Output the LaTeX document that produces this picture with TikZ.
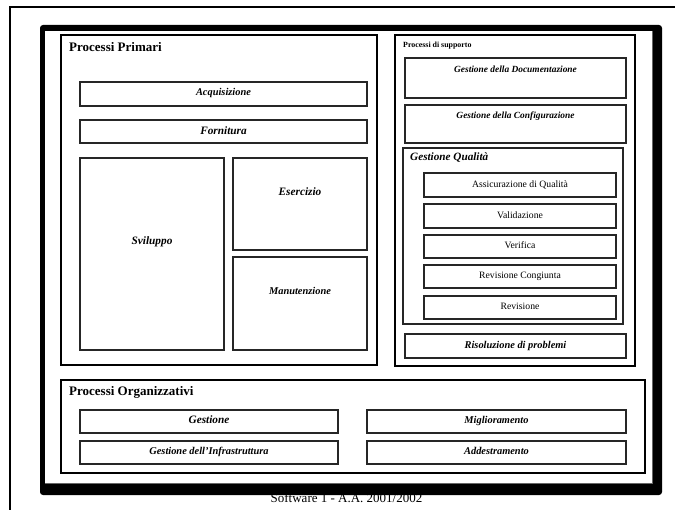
\documentclass[tikz,border=0pt]{standalone}
\usepackage{fontspec}
\setmainfont{Liberation Serif}
\begin{document}
\begin{tikzpicture}[x=1pt,y=-1pt,
  grp/.style={draw=black,line width=1.8pt},
  box/.style={draw=black!85,line width=1.4pt},
  title/.style={anchor=mid west,inner sep=0pt,font=\bfseries\fontsize{13}{15}\selectfont},
  lbl/.style={anchor=mid,inner sep=0pt,font=\bfseries\itshape\fontsize{10.4}{12}\selectfont},
  lblbig/.style={lbl,font=\bfseries\itshape\fontsize{11.3}{13}\selectfont},
  lblsmall/.style={lbl,font=\bfseries\itshape\fontsize{9.4}{11}\selectfont},
  plain/.style={anchor=mid,inner sep=0pt,font=\fontsize{9.7}{11}\selectfont}]
\useasboundingbox (0,0) rectangle (675,510);
% outer page frame
\draw[line width=2pt] (10,510) -- (10,7) -- (675,7);
% footer (partly hidden under the shadow)
\node[anchor=base,inner sep=0pt,font=\fontsize{13}{15}\selectfont] (footer) at (346.5,502) {Software 1 - A.A. 2001/2002};
% main frame with shadow
\fill[black,rounded corners=3pt] (40,25) rectangle (662,495);
\fill[white] (45,31) rectangle (652,483);
\draw[black!60,line width=0.6pt] (652,31) -- (652,483) -- (45,483);

% Processi Primari
\draw[grp] (61,35) rectangle (377,365);
\node[title] (pp) at (69,49) {Processi Primari};
\draw[box] (80,82) rectangle (367,106);
\node[lbl] (acq) at (223.5,93.5) {Acquisizione};
\draw[box] (80,120) rectangle (367,143);
\node[lblbig] (forn) at (223.5,132) {Fornitura};
\draw[box] (80,158) rectangle (224,350);
\node[lblbig] (svil) at (152,242) {Sviluppo};
\draw[box] (233,158) rectangle (367,250);
\node[lblbig] (eser) at (300,193) {Esercizio};
\draw[box] (233,257) rectangle (367,350);
\node[lbl] (manu) at (300,292) {Manutenzione};

% Processi di supporto
\draw[grp] (395,35) rectangle (635,366);
\node[anchor=mid west,inner sep=0pt,font=\bfseries\fontsize{7.9}{9}\selectfont] (ps) at (403,45.5) {Processi di supporto};
\draw[box] (405,58) rectangle (626,98);
\node[lblsmall] (doc) at (515.5,70) {Gestione della Documentazione};
\draw[box] (405,105) rectangle (626,143);
\node[lblsmall] (conf) at (515.5,116) {Gestione della Configurazione};
\draw[box] (403,148) rectangle (623,324);
\node[anchor=mid west,inner sep=0pt,font=\bfseries\itshape\fontsize{11.2}{13}\selectfont] (gq) at (410,158.5) {Gestione Qualità};
\draw[box] (424,173) rectangle (616,197);
\node[plain] (ass) at (520,185) {Assicurazione di Qualità};
\draw[box] (424,204) rectangle (616,228);
\node[plain] (val) at (520,216) {Validazione};
\draw[box] (424,235) rectangle (616,258);
\node[plain] (ver) at (520,246.5) {Verifica};
\draw[box] (424,265) rectangle (616,288);
\node[plain] (revc) at (520,276.5) {Revisione Congiunta};
\draw[box] (424,296) rectangle (616,319);
\node[plain] (rev) at (520,307.5) {Revisione};
\draw[box] (405,334) rectangle (626,358);
\node[lbl] (ris) at (515.5,346) {Risoluzione di problemi};

% Processi Organizzativi
\draw[grp] (61,380) rectangle (645,473);
\node[title] (po) at (69,393) {Processi Organizzativi};
\draw[box] (80,410) rectangle (338,433);
\node[lblbig] (gest) at (209,421.5) {Gestione};
\draw[box] (80,441) rectangle (338,464);
\node[lbl] (infra) at (209,452.5) {Gestione dell’Infrastruttura};
\draw[box] (367,410) rectangle (626,433);
\node[lbl] (migl) at (496.5,421.5) {Miglioramento};
\draw[box] (367,441) rectangle (626,464);
\node[lbl] (add) at (496.5,452.5) {Addestramento};
\end{tikzpicture}
\end{document}
